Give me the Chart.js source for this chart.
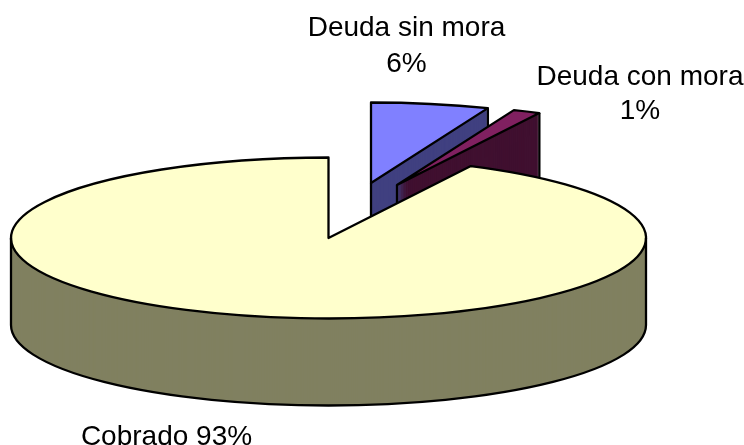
<!DOCTYPE html>
<html>
<head>
<meta charset="utf-8">
<style>html,body{margin:0;padding:0;background:#fff}canvas{display:block}</style>
<script src="https://cdn.jsdelivr.net/npm/chart.js@4/dist/chart.umd.min.js"></script>
</head>
<body>
<canvas id="c" width="744" height="445"></canvas>
<script>
// data (rounded shares shown in the labels are 6%, 1%, 93%)
const categories = ['Deuda sin mora', 'Deuda con mora', 'Cobrado'];
const values = [6.0, 1.4, 92.6];
// colours
const topColors = ['#8080FF', '#802060', '#FFFFCC'];
const wallColors = ['#404080', '#401030', '#808060'];

// projection of the flat pie into the tilted view
const view = { cx: 328.5, cy: 238, radius: 317.5, squash: 80.5 / 317.5, depth: 87 };
const explodeX = [42.5, 68.5, 0];
const explodeY = [-55, -53, 0];
const LINE = 2.3;

const total = values.reduce((a, b) => a + b, 0);
const pct = values.map(v => Math.round(v / total * 100) + '%');
const labelLayout = [
  { lines: [categories[0], pct[0]], x: 406.5, ys: [28, 64] },
  { lines: [categories[1], pct[1]], x: 640, ys: [77, 111] },
  { lines: [categories[2] + ' ' + pct[2]], x: 166.5, ys: [437] }
];

function layer(ctx, el, i, drop, color) {
  ctx.save();
  ctx.translate(view.cx + explodeX[i], view.cy + explodeY[i] + drop);
  ctx.scale(1, view.squash);
  ctx.translate(-el.x, -el.y);
  const saved = el.options;
  el.options = { backgroundColor: color, borderColor: '#000', borderWidth: 0, borderAlign: 'center',
    borderRadius: 0, offset: 0, spacing: 0, circular: true, borderDash: [], borderDashOffset: 0 };
  el.draw(ctx);
  el.options = saved;
  ctx.restore();
}

const pie3d = {
  id: 'pie3d',
  beforeDatasetsDraw(chart) {
    const ctx = chart.ctx;
    const arcs = chart.getDatasetMeta(0).data;
    arcs.forEach((el, i) => {
      const r = el.outerRadius, ry = r * view.squash;
      const x0 = view.cx + explodeX[i], y0 = view.cy + explodeY[i];
      const a0 = el.startAngle, a1 = el.endAngle;
      // wall: stacked copies of the slice
      for (let d = view.depth; d > 0; d--) layer(ctx, el, i, d, wallColors[i]);
      layer(ctx, el, i, 0, topColors[i]);

      ctx.save();
      ctx.strokeStyle = '#000';
      ctx.lineWidth = LINE;
      ctx.lineJoin = 'round';
      // rim of the wall on the lower half of the ellipse
      const from = Math.max(a0, 0), to = Math.min(a1, Math.PI);
      if (to > from) {
        ctx.beginPath();
        ctx.ellipse(x0, y0 + view.depth, r, ry, 0, from, to);
        ctx.stroke();
        [0, Math.PI].forEach(a => {
          if (a >= a0 && a <= a1) {
            const px = x0 + r * Math.cos(a), py = y0 + ry * Math.sin(a);
            ctx.beginPath(); ctx.moveTo(px, py); ctx.lineTo(px, py + view.depth); ctx.stroke();
          }
        });
      }
      // radial wall seen from the front
      if (Math.cos(a1) > 0.01) {
        const ex = x0 + r * Math.cos(a1), ey = y0 + ry * Math.sin(a1);
        ctx.beginPath();
        ctx.moveTo(x0, y0); ctx.lineTo(x0, y0 + view.depth);
        ctx.lineTo(ex, ey + view.depth); ctx.lineTo(ex, ey);
        ctx.stroke();
      }
      // top face outline
      ctx.beginPath();
      ctx.moveTo(x0, y0);
      ctx.ellipse(x0, y0, r, ry, 0, a0, a1);
      ctx.closePath();
      ctx.stroke();
      ctx.restore();
    });
    return false;
  },
  afterDraw(chart) {
    const ctx = chart.ctx;
    ctx.save();
    ctx.fillStyle = '#000';
    ctx.font = '28px "Liberation Sans", Arial, sans-serif';
    ctx.textAlign = 'center';
    ctx.textBaseline = 'middle';
    labelLayout.forEach(l => l.lines.forEach((t, k) => ctx.fillText(t, l.x, l.ys[k])));
    ctx.restore();
  }
};

new Chart(document.getElementById('c'), {
  type: 'pie',
  data: {
    labels: categories,
    datasets: [{ data: values, backgroundColor: topColors, borderWidth: 0 }]
  },
  options: {
    responsive: false,
    animation: false,
    rotation: 0,
    radius: view.radius,
    plugins: { legend: { display: false }, tooltip: { enabled: false } }
  },
  plugins: [pie3d]
});
</script>
</body>
</html>
